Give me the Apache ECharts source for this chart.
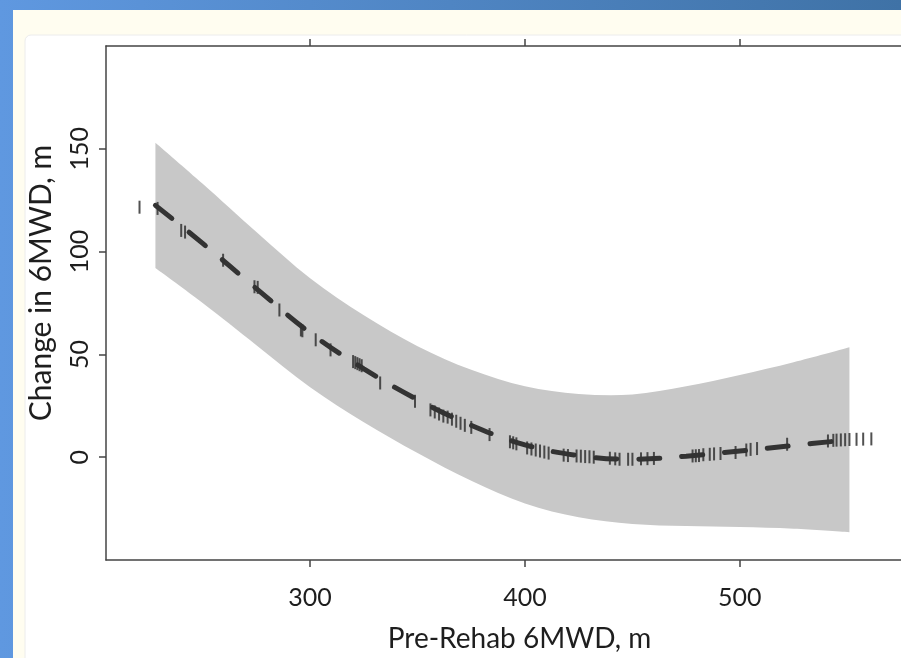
<!DOCTYPE html>
<html>
<head>
<meta charset="utf-8">
<title>Change in 6MWD vs Pre-Rehab 6MWD</title>
<script src="https://cdn.jsdelivr.net/npm/echarts@6.0.0/dist/echarts.min.js"></script>
<style>
  html, body { margin: 0; padding: 0; }
  #main { width: 901px; height: 658px; }
</style>
</head>
<body>
<div id="main"></div>
<script type="text/javascript">
  // fitted curve and confidence band
  var fitX  = [228, 250, 275, 300, 325, 350, 375, 400, 425, 450, 475, 500, 525, 551];
  var fitY  = [122.5, 104, 82, 60.5, 43, 28, 15.5, 6, 0.8, -1, 0.5, 3, 5.7, 8.5];
  var upper = [153, 133, 109.5, 87, 69, 54, 42.5, 34.5, 30.8, 30.5, 34.5, 40, 46.2, 53.5];
  var lower = [92, 75, 54.5, 34, 17, 2, -11.5, -22.5, -29.2, -32.5, -33.5, -34, -34.8, -36.5];

  // rug marks (patients) sitting on the curve
  var rugX = [220.6, 229, 240, 241.8, 259.5, 274.1, 275.6, 285.7, 295.7, 296.4, 302.6, 309.5,
              320, 321, 322, 323, 324, 332.6, 348.8, 356, 358, 360, 362,
              364, 366, 368, 370, 372, 375, 383.5, 393, 394.5, 396,
              401, 403, 405, 407, 409, 411, 418, 420, 424, 426, 428, 430, 432,
              439.5, 442, 444, 448, 450, 454, 457, 460, 478, 479.5, 481,
              483, 486, 488, 491, 498, 503, 505, 508, 522, 541,
              543.5, 545, 547, 549, 551, 554.3, 557.4, 561.2];
  var rugY = [121.6, 121, 110.3, 109.5, 95.8, 82.9, 82.6, 71.6, 61.9, 61.5, 57.1, 52.2,
              46.5, 46, 45.5, 45, 44.5, 36.1, 27.2, 23, 22, 21, 20,
              19.5, 18.5, 17.5, 16.5, 15.5, 14.5, 11, 7.5, 7, 6.5,
              4.5, 4, 3.5, 3, 2.5, 2, 1, 0.8, 0.6, 0.5, 0.3, 0.2, 0,
              -0.5, -0.8, -1, -1, -1, -0.8, -0.7, -0.6, 0.6, 0.7, 0.8,
              1.2, 1.4, 1.6, 1.8, 2.3, 3.5, 3.8, 4.2, 6.3, 7.9,
              8.2, 8.3, 8.4, 8.5, 8.6, 8.7, 8.8, 8.9];

  var xTicks = [300, 400, 500];
  var yTicks = [0, 50, 100, 150];

  var chart = echarts.init(document.getElementById('main'));

  var bandData = [], fitData = [], rugData = [];
  for (var i = 0; i < fitX.length; i++) {
    bandData.push([fitX[i], lower[i], upper[i]]);
    fitData.push([fitX[i], fitY[i]]);
  }
  for (var j = 0; j < rugX.length; j++) {
    rugData.push([rugX[j], rugY[j]]);
  }

  // catmull-rom through screen points -> cubic bezier path commands
  function curvePath(pts) {
    var d = '';
    for (var k = 0; k < pts.length - 1; k++) {
      var p0 = pts[k - 1] || pts[k], p1 = pts[k], p2 = pts[k + 1], p3 = pts[k + 2] || pts[k + 1];
      var c1x = p1[0] + (p2[0] - p0[0]) / 6, c1y = p1[1] + (p2[1] - p0[1]) / 6;
      var c2x = p2[0] - (p3[0] - p1[0]) / 6, c2y = p2[1] - (p3[1] - p1[1]) / 6;
      d += ' C' + c1x + ' ' + c1y + ' ' + c2x + ' ' + c2y + ' ' + p2[0] + ' ' + p2[1];
    }
    return d;
  }

  function renderBand(params, api) {
    if (params.dataIndex !== 0) return;
    var top = [], bottom = [];
    for (var k = 0; k < bandData.length; k++) {
      top.push(api.coord([bandData[k][0], bandData[k][2]]));
      bottom.push(api.coord([bandData[k][0], bandData[k][1]]));
    }
    bottom.reverse();
    var d = 'M' + top[0][0] + ' ' + top[0][1] + curvePath(top) +
            ' L' + bottom[0][0] + ' ' + bottom[0][1] + curvePath(bottom) + ' Z';
    return { type: 'path', shape: { pathData: d }, style: { fill: '#c8c8c8' } };
  }

  var font = 'Lato';
  var axisColor = '#444';
  var textColor = '#1e1e1e';

  var option = {
    backgroundColor: new echarts.graphic.LinearGradient(0, 0, 1, 0, [
      { offset: 0, color: '#5f98e0' }, { offset: 1, color: '#3f72a6' }
    ]),
    animation: false,
    graphic: [
      { type: 'rect', shape: { x: 13, y: 10, width: 900, height: 660 },
        style: { fill: '#fffdf0' }, z: -10 },
      { type: 'rect', shape: { x: 25, y: 35, width: 900, height: 640, r: 6 },
        style: { fill: '#ffffff', stroke: '#ececec', lineWidth: 1 }, z: -9 }
    ],
    grid: { left: 106, right: -6, top: 46, bottom: 95 },
    xAxis: [{
      type: 'value', min: 205, max: 575, position: 'bottom',
      name: 'Pre-Rehab 6MWD, m', nameLocation: 'middle', nameGap: 65,
      nameTextStyle: { fontFamily: font, fontSize: 28, color: textColor, padding: [0, 0, 0, 32] },
      axisLine: { show: true, onZero: false, lineStyle: { color: axisColor, width: 1.5 } },
      axisTick: { show: true, length: 7, customValues: xTicks, lineStyle: { color: axisColor, width: 1.5 } },
      axisLabel: { customValues: xTicks, margin: 25, fontFamily: font, fontSize: 25, color: textColor },
      splitLine: { show: false }
    }, {
      type: 'value', min: 205, max: 575, position: 'top',
      axisLine: { show: true, onZero: false, lineStyle: { color: axisColor, width: 1.5 } },
      axisTick: { show: true, length: 7, customValues: xTicks, lineStyle: { color: axisColor, width: 1.5 } },
      axisLabel: { show: false },
      splitLine: { show: false }
    }],
    yAxis: {
      type: 'value', min: -50, max: 200,
      name: 'Change in 6MWD, m', nameLocation: 'middle', nameGap: 50,
      nameTextStyle: { fontFamily: font, fontSize: 30, color: textColor, padding: [0, 0, 0, 40] },
      axisLine: { show: true, onZero: false, lineStyle: { color: axisColor, width: 1.5 } },
      axisTick: { show: true, length: 7, customValues: yTicks, lineStyle: { color: axisColor, width: 1.5 } },
      axisLabel: { customValues: yTicks, rotate: 90, margin: 14, fontFamily: font, fontSize: 25, color: textColor },
      splitLine: { show: false }
    },
    series: [{
      name: 'band', type: 'custom', data: bandData, renderItem: renderBand,
      encode: { x: 0, y: [1, 2] }, z: 1
    }, {
      name: 'fit', type: 'line', data: fitData, smooth: 0.4, showSymbol: false,
      lineStyle: { color: '#333', width: 5, type: [21, 22], cap: 'round' }, z: 3
    }, {
      name: 'rug', type: 'scatter', data: rugData, symbol: 'rect', symbolSize: [2, 13],
      itemStyle: { color: '#333', opacity: 0.85 }, z: 4
    }]
  };

  chart.setOption(option);
</script>
</body>
</html>
